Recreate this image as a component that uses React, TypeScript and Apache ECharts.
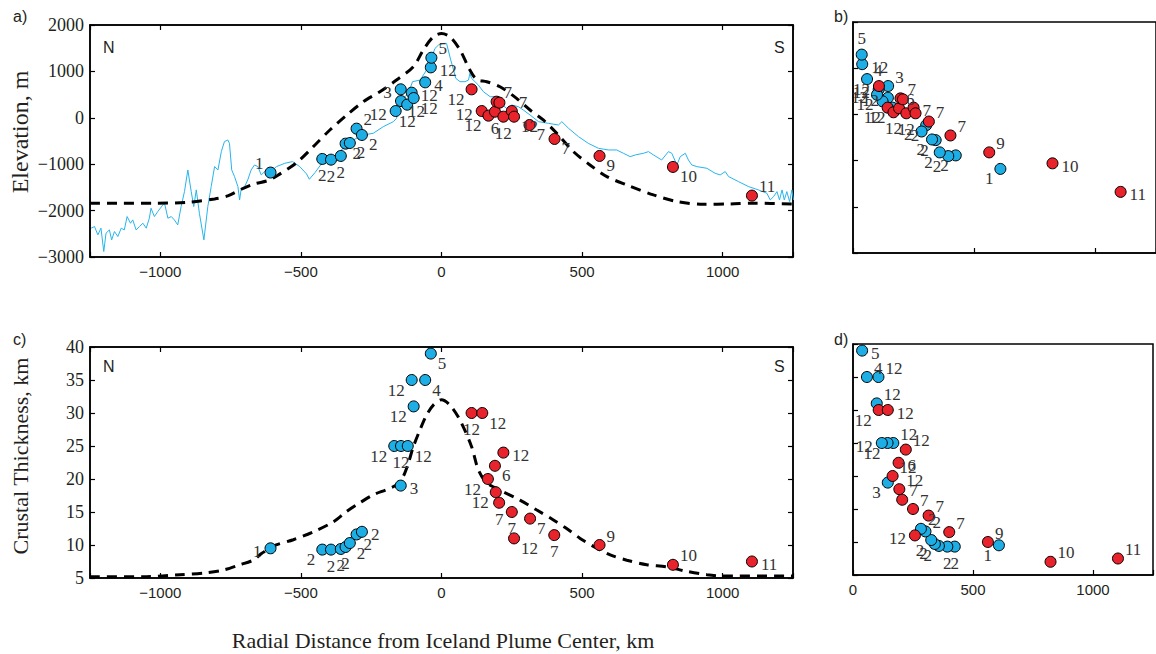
import React, { useEffect, useRef } from 'react';
import * as echarts from 'echarts';

// ---------- data ----------
// bathymetry / topography profile along the ridge (panel a)
const cyanX = [-1246,-1234,-1222,-1211,-1201,-1193,-1181,-1173,-1163,-1151,-1139,-1128,-1118,-1106,-1098,-1086,-1074,-1062,-1050,-1039,-1033,-1021,-1009,-991,-985,-973,-961,-950,-938,-926,-914,-902,-890,-881,-872,-861,-845,-831,-819,-807,-795,-783,-772,-760,-754,-746,-736,-724,-718,-712,-700,-689,-677,-665,-653,-641,-629,-611,-587,-557,-530,-504,-480,-470,-450,-421,-385,-349,-314,-278,-243,-207,-171,-160,-154,-142,-118,-103,-76,-53,-35,-23,-11,6,18,33,51,66,84,96,101,107,119,131,149,173,196,208,232,250,273,291,315,345,380,416,428,452,487,522,558,594,623,647,671,689,718,736,754,783,807,819,837,849,867,878,890,908,944,973,991,1009,1021,1056,1092,1127,1157,1169,1181,1193,1202,1211,1219,1228,1238,1246,1252];
const cyanElev = [-2379,-2344,-2523,-2379,-2882,-2487,-2416,-2631,-2451,-2559,-2379,-2416,-2128,-2272,-2200,-2416,-2344,-2272,-2379,-2164,-1949,-2128,-2021,-1877,-1841,-2164,-2128,-2200,-2308,-1913,-1590,-1124,-1590,-1913,-1554,-2057,-2631,-1913,-1483,-1052,-1124,-729,-514,-478,-550,-1124,-1267,-1483,-1770,-1519,-1483,-1339,-1124,-1016,-1052,-1231,-1160,-1181,-1052,-980,-944,-1052,-1210,-1325,-1181,-944,-837,-657,-478,-370,-334,-191,-83,-12,168,383,527,778,814,1029,1316,1496,1567,1603,1603,1244,850,778,778,814,957,850,778,706,563,455,455,311,204,276,240,168,60,-83,-119,-155,-83,-227,-406,-550,-657,-693,-693,-765,-837,-801,-765,-729,-801,-909,-729,-765,-1016,-837,-765,-909,-1016,-1052,-1088,-1196,-1231,-1160,-1267,-1375,-1483,-1554,-1626,-1770,-1698,-1591,-1770,-1554,-1770,-1591,-1806,-1554,-1770];

// model elevation (dashed, panel a)
const modelEx = [-1250,-1140,-1020,-900,-807,-760,-712,-665,-617,-580,-515,-456,-397,-337,-278,-219,-160,-100,-65,-29,0,30,66,101,125,161,208,267,315,362,410,469,528,588,659,754,837,932,1027,1110,1250];
const modelElev = [-1841,-1841,-1841,-1820,-1748,-1683,-1540,-1425,-1353,-1230,-966,-622,-263,60,347,563,814,1101,1460,1747,1818,1747,1460,1029,828,778,670,419,168,-47,-334,-729,-1016,-1267,-1447,-1662,-1805,-1863,-1856,-1841,-1856];

// model crustal thickness (dashed, panel c)
const modelCx = [-1250,-1050,-930,-836,-776,-717,-670,-640,-598,-527,-456,-385,-337,-290,-243,-195,-160,-136,-118,-100,-77,-53,-29,0,30,66,107,131,161,208,279,339,398,445,493,540,600,659,730,801,873,944,1003,1250];
const modelCrust = [5.2,5.2,5.5,5.8,6.2,7.0,7.7,8.7,9.85,10.8,12.0,13.5,15.1,16.4,17.6,18.4,19.1,20.4,22.4,24.9,27.4,29.7,31.2,32.0,31.2,28.9,24.9,21.4,19.4,18.3,16.8,15.3,13.8,12.5,11.0,9.8,8.5,7.7,7.0,6.7,6.0,5.5,5.3,5.3];

// northern samples, elevation
const northElevX = [-608,-424,-393,-358,-341,-326,-302,-283,-145,-144,-163,-122,-106,-99,-58,-38,-36];
const northElev = [-1180,-887,-902,-822,-557,-543,-234,-370,614,361,146,283,541,426,764,1087,1294];
const northElevLab = ['1','2','2','2','2','2','2','2','3','12','12','12','12','12','4','12','5'];

// southern samples, elevation
const southElevX = [107,143,167,190,196,206,220,250,258,313,402,562,823,1104];
const southElev = [613,146,46,132,347,326,24,146,24,-155,-456,-822,-1059,-1677];
const southElevLab = ['12','12','12','6','7','7','12','7','12','7','7','9','10','11'];

// northern samples, crustal thickness
const northCrustX = [-608,-424,-393,-358,-341,-326,-302,-283,-145,-168,-144,-120,-99,-106,-58,-38];
const northCrust = [9.5,9.3,9.3,9.4,9.7,10.3,11.6,12.0,19,25,25,25,31,35,35,39];
const northCrustLab = ['1','2','2','2','2','2','2','2','3','12','12','12','12','12','4','5'];

// southern samples, crustal thickness
const southCrustX = [107,145,220,190,165,193,205,250,315,258,401,562,823,1104];
const southCrust = [30,30,24,22,20,18,16.4,15,14,11,11.5,10,7,7.5];
const southCrustLab = ['12','12','12','6','12','12','7','7','7','12','7','9','10','11'];

// ---------- label placement (style) ----------
const posA_n = ['ul','b','b','b','br','br','ur','br','l','br','l','b','r','br','r','r','ur'];
const posB_n = ['bl','bl','bl','bl','bl','bl','bl','l','ur','l','bl','l','l','l','ur','r','u'];
const posA_s = ['bl','l','bl','b','ur','x','b','ur','br','br','br','br','br','ur'];
const posB_s = ['l','bl','b','ur','ur','x','b','r','x','ur','ur','ur','r','r'];
const posC_n = ['l','bl','b','b','b','br','br','r','r','bl','b','br','bl','bl','br','br'];
const posD_n = ['bl','b','b','bl','bl','bl','ur','ur','bl','ur','bl','l','ur','ur','ur','r'];
const posC_s = ['b','br','r','br','bl','bl','b','b','br','br','b','ur','ur','r'];
const posD_s = ['bl','r','ur','r','ur','ur','ur','ur','ur','l','ur','ur','ur','ur'];

const SERIF = '"Liberation Serif", "Times New Roman", serif';
const SANS = '"Liberation Sans", Arial, sans-serif';
const BLUE = '#1eaee6';
const RED = '#e8232b';
const CYAN = '#27b4ec';

const POS: Record<string, any> = {
  r: { position: 'right', offset: [-2, 3] },
  l: { position: 'left', offset: [2, 3] },
  ur: { position: 'right', offset: [-4, -9] },
  br: { position: 'right', offset: [-4, 10] },
  ul: { position: 'left', offset: [4, -9] },
  bl: { position: 'left', offset: [4, 10] },
  b: { position: 'bottom', offset: [0, -3] },
  u: { position: 'top', offset: [0, 3] },
};

function pts(xs: number[], ys: number[], labels: string[], pos: string[], fold: boolean) {
  return xs.map((x, i) => ({
    value: [fold ? Math.abs(x) : x, ys[i]],
    name: labels[i],
    label: pos[i] === 'x' ? { show: false } : { show: true, ...POS[pos[i]] },
  }));
}

function pairs(xs: number[], ys: number[]) {
  return xs.map((x, i) => [x, ys[i]]);
}

const minus = (v: number) => (v < 0 ? '\u2212' + Math.abs(v) : String(v));

const lineSt = { color: '#000', width: 1.5 };
const tickSt = { color: '#000', width: 1.2 };

function xAxisCfg(grid: number, min: number, max: number, pos: 'bottom' | 'top', labels: boolean, interval?: number) {
  const cfg: any = {
    gridIndex: grid, type: 'value', min, max, position: pos,
    axisLine: { show: true, onZero: false, lineStyle: lineSt },
    axisTick: { show: true, inside: true, length: 5, lineStyle: tickSt },
    splitLine: { show: false },
    axisLabel: labels
      ? { show: true, formatter: (v: number) => (v % 500 === 0 ? minus(v) : ''), fontFamily: SANS, fontSize: 15, color: '#231f20', margin: 7 }
      : { show: false },
  };
  if (interval) cfg.interval = interval;
  return cfg;
}

function yAxisCfg(grid: number, min: number, max: number, interval: number, pos: 'left' | 'right', labels: boolean) {
  return {
    gridIndex: grid, type: 'value', min, max, interval, position: pos,
    axisLine: { show: true, onZero: false, lineStyle: lineSt },
    axisTick: { show: true, inside: true, length: 5, lineStyle: tickSt },
    splitLine: { show: false },
    axisLabel: labels
      ? { show: true, formatter: (v: number) => minus(v), fontFamily: SERIF, fontSize: 18, color: '#231f20', margin: 6 }
      : { show: false },
  };
}

function scat(data: any[], color: string, xi: number, yi: number) {
  return {
    type: 'scatter', xAxisIndex: xi, yAxisIndex: yi, data,
    symbol: 'circle', symbolSize: 11, z: 5,
    itemStyle: { color, borderColor: '#000', borderWidth: 1, opacity: 1 },
    label: { show: true, formatter: '{b}', fontFamily: SERIF, fontSize: 17, color: '#333' },
    emphasis: { disabled: true },
  };
}

function dashed(data: any[], xi: number, yi: number) {
  return {
    type: 'line', xAxisIndex: xi, yAxisIndex: yi, data, smooth: 0.3,
    showSymbol: false, symbol: 'none', z: 3,
    lineStyle: { color: '#000', width: 3, type: [10, 7] },
    emphasis: { disabled: true },
  };
}

function txt(text: string, x: number, y: number, font: string) {
  return {
    type: 'text', x, y,
    style: { text, font, fill: '#231f20', textAlign: 'left', textVerticalAlign: 'top' },
  };
}

export default function App() {
  const ref = useRef<HTMLDivElement>(null);
  useEffect(() => {
    if (!ref.current) return;
    const chart = echarts.init(ref.current, undefined, { renderer: 'svg' });
    const option: any = {
      animation: false,
      backgroundColor: '#fff',
      grid: [
        { left: 90, top: 25, width: 703, height: 232, show: true, borderColor: '#000', borderWidth: 1.5 },
        { left: 853, top: 22, width: 305, height: 231, show: true, borderColor: '#000', borderWidth: 1.5 },
        { left: 90, top: 347, width: 703, height: 231, show: true, borderColor: '#000', borderWidth: 1.5 },
        { left: 853, top: 344, width: 305, height: 231, show: true, borderColor: '#000', borderWidth: 1.5 },
      ],
      xAxis: [
        xAxisCfg(0, -1250, 1250, 'bottom', true),
        xAxisCfg(0, -1250, 1250, 'top', false),
        xAxisCfg(1, 0, 1250, 'bottom', false, 500),
        xAxisCfg(2, -1250, 1250, 'bottom', true),
        xAxisCfg(2, -1250, 1250, 'top', false),
        xAxisCfg(3, 0, 1250, 'bottom', true, 500),
      ],
      yAxis: [
        yAxisCfg(0, -3000, 2000, 1000, 'left', true),
        yAxisCfg(0, -3000, 2000, 1000, 'right', false),
        yAxisCfg(1, -3000, 2000, 1000, 'left', false),
        yAxisCfg(2, 5, 40, 5, 'left', true),
        yAxisCfg(2, 5, 40, 5, 'right', false),
        yAxisCfg(3, 5, 40, 5, 'left', false),
      ],
      series: [
        // panel a
        {
          type: 'line', xAxisIndex: 0, yAxisIndex: 0, data: pairs(cyanX, cyanElev),
          showSymbol: false, symbol: 'none', z: 2,
          lineStyle: { color: CYAN, width: 1 }, emphasis: { disabled: true },
        },
        dashed(pairs(modelEx, modelElev), 0, 0),
        scat(pts(northElevX, northElev, northElevLab, posA_n, false), BLUE, 0, 0),
        scat(pts(southElevX, southElev, southElevLab, posA_s, false), RED, 0, 0),
        // panel b
        scat(pts(northElevX, northElev, northElevLab, posB_n, true), BLUE, 2, 2),
        scat(pts(southElevX, southElev, southElevLab, posB_s, true), RED, 2, 2),
        // panel c
        dashed(pairs(modelCx, modelCrust), 3, 3),
        scat(pts(northCrustX, northCrust, northCrustLab, posC_n, false), BLUE, 3, 3),
        scat(pts(southCrustX, southCrust, southCrustLab, posC_s, false), RED, 3, 3),
        // panel d
        scat(pts(northCrustX, northCrust, northCrustLab, posD_n, true), BLUE, 5, 5),
        scat(pts(southCrustX, southCrust, southCrustLab, posD_s, true), RED, 5, 5),
      ],
      graphic: [
        txt('a)', 13, 8, `16px ${SANS}`),
        txt('b)', 834, 8, `16px ${SANS}`),
        txt('c)', 13, 331, `16px ${SANS}`),
        txt('d)', 834, 331, `16px ${SANS}`),
        txt('N', 103, 39, `16px ${SANS}`),
        txt('S', 774, 39, `16px ${SANS}`),
        txt('N', 103, 358, `16px ${SANS}`),
        txt('S', 774, 358, `16px ${SANS}`),
        {
          type: 'text', x: 20, y: 132, rotation: Math.PI / 2,
          style: { text: 'Elevation, m', font: `24px ${SERIF}`, fill: '#231f20', textAlign: 'center', textVerticalAlign: 'middle' },
        },
        {
          type: 'text', x: 20, y: 456, rotation: Math.PI / 2,
          style: { text: 'Crustal Thickness, km', font: `22px ${SERIF}`, fill: '#231f20', textAlign: 'center', textVerticalAlign: 'middle' },
        },
        {
          type: 'text', x: 443, y: 640,
          style: { text: 'Radial Distance from Iceland Plume Center, km', font: `22px ${SERIF}`, fill: '#231f20', textAlign: 'center', textVerticalAlign: 'middle' },
        },
      ],
    };
    chart.setOption(option);
    return () => chart.dispose();
  }, []);
  return (
    <div
      ref={ref}
      style={{ position: 'fixed', left: 0, top: 0, width: 1156, height: 654, background: '#fff' }}
    />
  );
}
